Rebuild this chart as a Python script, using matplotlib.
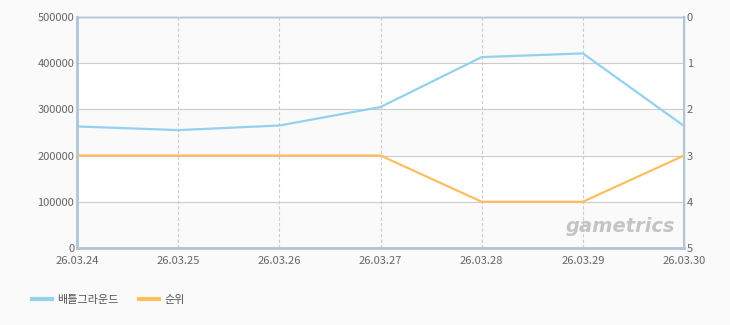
import matplotlib.pyplot as plt

plt.rcParams['font.family'] = ['Noto Sans CJK KR', 'DejaVu Sans']

dates = ["26.03.24", "26.03.25", "26.03.26", "26.03.27", "26.03.28", "26.03.29", "26.03.30"]
users = [263000, 255000, 265000, 305000, 413000, 421000, 264000]
rank = [3, 3, 3, 3, 4, 4, 3]

blue = "#94d1ef"
orange = "#fbbf5f"
frame = "#b3c4d6"
tickc = "#666666"

fig = plt.figure(figsize=(7.3, 3.25), dpi=100)
fig.patch.set_facecolor("#fafafa")
ax = fig.add_axes([0.1055, 0.237, 0.8315, 0.711])
ax.set_facecolor("#ffffff")

x = list(range(len(dates)))
ax.set_xlim(0, len(dates) - 1)
ax.set_ylim(0, 500000)

# alternating bands
for i in range(0, 5, 2):
    ax.axhspan(i * 100000, (i + 1) * 100000, color="#fafafa", zorder=0)

ax.set_yticks([0, 100000, 200000, 300000, 400000, 500000])
ax.set_yticklabels(["0", "100000", "200000", "300000", "400000", "500000"])
ax.grid(axis="y", color="#cccccc", linewidth=0.8, zorder=1)
for xi in x[1:-1]:
    ax.axvline(xi, color="#cccccc", linestyle=(0, (3, 2)), linewidth=0.8, zorder=1)

ax.plot(x, users, color=blue, linewidth=1.6, zorder=3, label="배틀그라운드")

ax2 = ax.twinx()
ax2.set_ylim(5, 0)
ax2.set_yticks([0, 1, 2, 3, 4, 5])
ax2.plot(x, rank, color=orange, linewidth=1.6, zorder=3, label="순위")

ax.set_xticks(x)
ax.set_xticklabels(dates)

for a in (ax, ax2):
    a.tick_params(length=0, labelsize=8, colors=tickc, pad=2)
    for s in a.spines.values():
        s.set_color(frame)
        s.set_linewidth(1.0)
ax.tick_params(axis="x", pad=6)
ax.spines["left"].set_linewidth(2)
ax.spines["bottom"].set_linewidth(2)
ax2.spines["left"].set_visible(False)
ax2.spines["bottom"].set_visible(False)
ax2.spines["right"].set_linewidth(1.5)

# watermark
ax.text(0.985, 0.05, "gametrics", transform=ax.transAxes, ha="right", va="bottom",
        fontsize=14, fontweight="bold", style="italic", color="#c4c4c4",
        family="DejaVu Sans", zorder=2)

h1, l1 = ax.get_legend_handles_labels()
h2, l2 = ax2.get_legend_handles_labels()
leg = fig.legend(h1 + h2, l1 + l2, loc="center left", bbox_to_anchor=(0.03, 0.077),
                 ncol=2, frameon=False, fontsize=8, handlelength=1.8,
                 handletextpad=0.5, columnspacing=1.8)
for t in leg.get_texts():
    t.set_color("#555555")
for ln in leg.get_lines():
    ln.set_linewidth(3)

fig.savefig("out.png", dpi=100, facecolor=fig.get_facecolor())
